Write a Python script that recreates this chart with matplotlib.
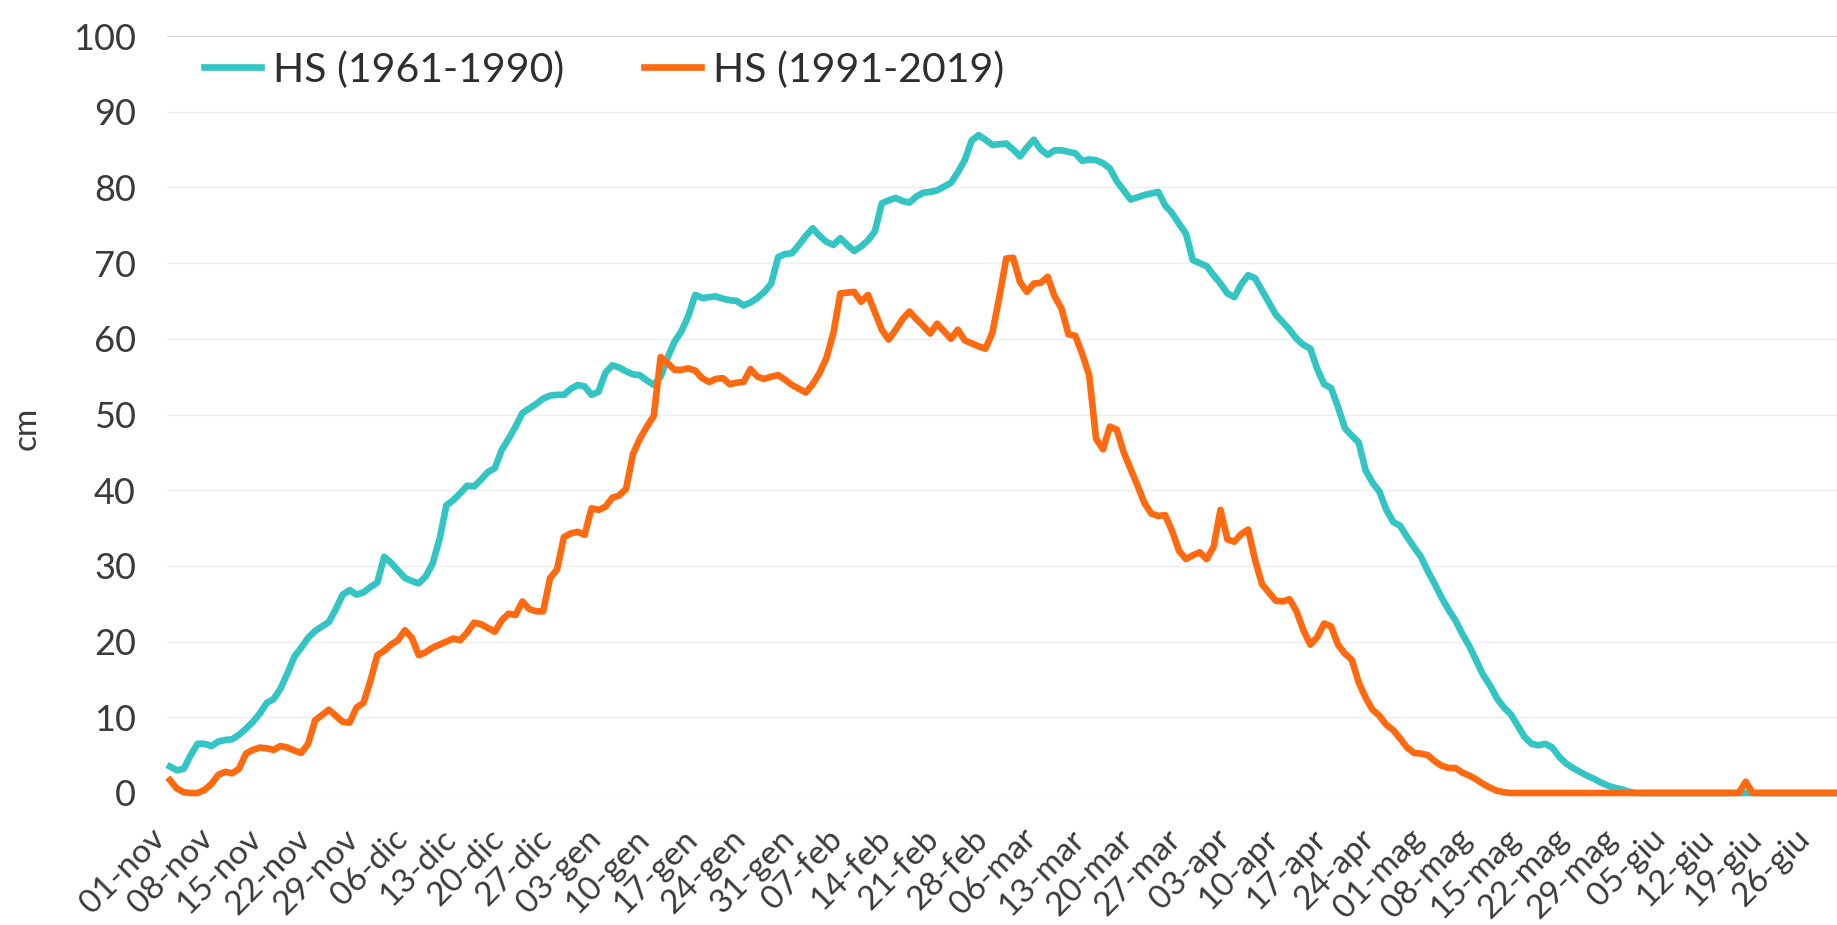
import matplotlib
matplotlib.use("Agg")
import matplotlib.pyplot as plt
import matplotlib.transforms as mtransforms
import numpy as np

plt.rcParams['font.family'] = ['Lato', 'DejaVu Sans']

# Daily snow depth (cm), 01-nov .. 30-giu (29-feb included)
hs_1961_1990 = [
    3.5, 3.0, 3.2, 5.0, 6.5, 6.5, 6.2, 6.8, 7.0, 7.1,
    7.7, 8.5, 9.4, 10.5, 11.9, 12.4, 13.8, 15.8, 18.0, 19.2,
    20.5, 21.4, 22.0, 22.6, 24.3, 26.2, 26.8, 26.2, 26.5, 27.2,
    27.8, 31.2, 30.4, 29.4, 28.4, 28.0, 27.7, 28.6, 30.3, 33.5,
    38.0, 38.7, 39.6, 40.6, 40.5, 41.4, 42.4, 42.9, 45.3, 46.8,
    48.4, 50.2, 50.8, 51.4, 52.1, 52.5, 52.6, 52.6, 53.4, 53.9,
    53.7, 52.6, 53.0, 55.5, 56.5, 56.2, 55.7, 55.3, 55.2, 54.5,
    53.9, 55.0, 57.5, 59.6, 61.0, 63.0, 65.8, 65.4, 65.5, 65.6,
    65.3, 65.1, 65.0, 64.4, 64.8, 65.4, 66.2, 67.3, 70.8, 71.2,
    71.3, 72.4, 73.6, 74.6, 73.6, 72.8, 72.4, 73.3, 72.4, 71.6,
    72.2, 73.0, 74.2, 77.9, 78.3, 78.6, 78.2, 78.0, 78.8, 79.3,
    79.4, 79.6, 80.1, 80.6, 82.0, 83.6, 86.2, 86.9, 86.3, 85.6,
    85.7, 85.8, 85.0, 84.1, 85.3, 86.3, 85.0, 84.3, 84.9, 84.9,
    84.7, 84.5, 83.5, 83.7, 83.6, 83.2, 82.5, 80.8, 79.6, 78.4,
    78.7, 79.0, 79.2, 79.4, 77.6, 76.6, 75.2, 73.9, 70.4, 70.0,
    69.6, 68.4, 67.3, 66.0, 65.5, 67.2, 68.4, 68.0, 66.4, 64.8,
    63.2, 62.2, 61.2, 60.0, 59.2, 58.7, 56.0, 54.0, 53.5, 51.0,
    48.2, 47.2, 46.3, 42.6, 41.0, 39.8, 37.4, 35.8, 35.3, 33.8,
    32.5, 31.2, 29.3, 27.6, 25.8, 24.2, 22.8, 21.0, 19.4, 17.5,
    15.6, 14.2, 12.5, 11.3, 10.4, 8.9, 7.4, 6.5, 6.3, 6.5,
    6.0, 4.8, 3.9, 3.3, 2.8, 2.3, 1.9, 1.4, 1.0, 0.7,
    0.5, 0.2, 0.0, 0.0, 0.0, 0.0, 0.0, 0.0, 0.0, 0.0,
    0.0, 0.0, 0.0, 0.0, 0.0, 0.0, 0.0, 0.0, 0.0, 0.0,
    0.0, 0.0, 0.0, 0.0, 0.0, 0.0, 0.0, 0.0, 0.0, 0.0,
    0.0, 0.0, 0.0,
]

hs_1991_2019 = [
    1.7, 0.6, 0.1, 0.0, 0.0, 0.4, 1.2, 2.4, 2.8, 2.6,
    3.2, 5.2, 5.7, 6.0, 5.9, 5.7, 6.2, 6.0, 5.6, 5.3,
    6.5, 9.6, 10.3, 11.0, 10.2, 9.4, 9.3, 11.3, 11.9, 14.8,
    18.2, 18.8, 19.6, 20.2, 21.5, 20.5, 18.2, 18.6, 19.2, 19.6,
    20.0, 20.4, 20.2, 21.2, 22.5, 22.3, 21.8, 21.3, 22.8, 23.7,
    23.5, 25.3, 24.3, 24.0, 24.0, 28.4, 29.5, 33.8, 34.3, 34.5,
    34.1, 37.6, 37.4, 37.8, 39.0, 39.3, 40.2, 44.8, 46.8, 48.4,
    49.8, 57.6, 56.8, 55.9, 55.9, 56.1, 55.8, 54.8, 54.3, 54.7,
    54.8, 54.0, 54.2, 54.3, 56.0, 55.0, 54.7, 55.0, 55.2, 54.6,
    53.9, 53.4, 52.9, 54.0, 55.5, 57.5, 60.8, 66.0, 66.1, 66.2,
    64.9, 65.8, 63.5, 61.2, 59.9, 61.2, 62.6, 63.6, 62.6, 61.7,
    60.7, 62.0, 61.0, 60.0, 61.2, 59.8, 59.4, 59.0, 58.7, 60.8,
    65.5, 70.6, 70.7, 67.5, 66.2, 67.3, 67.4, 68.2, 65.6, 64.0,
    60.6, 60.4, 58.0, 55.2, 46.8, 45.4, 48.4, 48.0, 45.0, 42.8,
    40.6, 38.3, 36.9, 36.6, 36.7, 34.6, 32.0, 30.9, 31.4, 31.8,
    30.9, 32.5, 37.4, 33.5, 33.2, 34.2, 34.8, 30.8, 27.6, 26.5,
    25.4, 25.3, 25.6, 24.0, 21.5, 19.6, 20.6, 22.4, 22.0, 19.6,
    18.4, 17.6, 14.6, 12.6, 11.0, 10.2, 9.0, 8.3, 7.2, 6.0,
    5.3, 5.2, 5.0, 4.2, 3.6, 3.3, 3.3, 2.7, 2.3, 1.8,
    1.2, 0.7, 0.3, 0.1, 0.0, 0.0, 0.0, 0.0, 0.0, 0.0,
    0.0, 0.0, 0.0, 0.0, 0.0, 0.0, 0.0, 0.0, 0.0, 0.0,
    0.0, 0.0, 0.0, 0.0, 0.0, 0.0, 0.0, 0.0, 0.0, 0.0,
    0.0, 0.0, 0.0, 0.0, 0.0, 0.0, 0.0, 0.0, 1.5, 0.0,
    0.0, 0.0, 0.0, 0.0, 0.0, 0.0, 0.0, 0.0, 0.0, 0.0,
    0.0, 0.0, 0.0,
]

tick_labels = [
    "01-nov", "08-nov", "15-nov", "22-nov", "29-nov", "06-dic", "13-dic",
    "20-dic", "27-dic", "03-gen", "10-gen", "17-gen", "24-gen", "31-gen",
    "07-feb", "14-feb", "21-feb", "28-feb", "06-mar", "13-mar", "20-mar",
    "27-mar", "03-apr", "10-apr", "17-apr", "24-apr", "01-mag", "08-mag",
    "15-mag", "22-mag", "29-mag", "05-giu", "12-giu", "19-giu", "26-giu",
]
series_names = ["HS (1961-1990)", "HS (1991-2019)"]
y_ticks = list(range(0, 101, 10))

W, H = 1837, 925
fig = plt.figure(figsize=(W / 100, H / 100), dpi=100)
left_px, right_px = 166.5, 1837
bottom_px, top_px = 793, 36
ax = fig.add_axes([left_px / W, 1 - bottom_px / H,
                   (right_px - left_px) / W, (bottom_px - top_px) / H])

teal = "#33C4C4"
orange = "#FF6A10"
l1, = ax.plot(np.arange(len(hs_1961_1990)), hs_1961_1990, color=teal, lw=4.8,
              clip_on=False, solid_joinstyle="round", label=series_names[0], zorder=3)
l2, = ax.plot(np.arange(len(hs_1991_2019)), hs_1991_2019, color=orange, lw=4.8,
              clip_on=False, solid_joinstyle="round", label=series_names[1], zorder=4)

ax.set_xlim(-0.5, 241.2)
ax.set_ylim(0, 100)
ax.set_yticks(y_ticks)
ax.set_yticklabels([str(v) for v in y_ticks])
ax.set_xticks(np.arange(0, 7 * len(tick_labels), 7))
ax.set_xticklabels(tick_labels, rotation=45, ha="right", va="top",
                   rotation_mode="anchor")
for s in ax.spines.values():
    s.set_visible(False)
ax.tick_params(axis="both", length=0)
ax.tick_params(axis="y", labelsize=26, labelcolor="#3A3A3A", pad=22)
ax.tick_params(axis="x", labelsize=24, labelcolor="#3A3A3A", pad=22)
offset = mtransforms.ScaledTranslation(-20 / 100, 0, fig.dpi_scale_trans)
for lab in ax.get_xticklabels():
    lab.set_transform(lab.get_transform() + offset)

ax.grid(axis="y", color="#EEEEEE", lw=1.0)
ax.grid(axis="x", visible=False)
ax.get_ygridlines()[-1].set_color("#D6D6D6")
ax.get_ygridlines()[-1].set_linewidth(1.6)
ax.set_axisbelow(True)

ax.set_ylabel("cm", fontsize=24, color="#3A3A3A")
ax.yaxis.set_label_coords((42 - left_px) / (right_px - left_px), 0.482)

fig.legend(handles=[l1, l2], labels=series_names, ncol=2, frameon=False,
           loc="center left", bbox_to_anchor=(204 / W, 1 - 70 / H),
           bbox_transform=fig.transFigure, fontsize=29.5, labelcolor="#2E2E2E",
           handlelength=1.39, handletextpad=0.29, columnspacing=1.95,
           borderpad=0, borderaxespad=0)

fig.savefig("out.png", dpi=100, facecolor="white")
